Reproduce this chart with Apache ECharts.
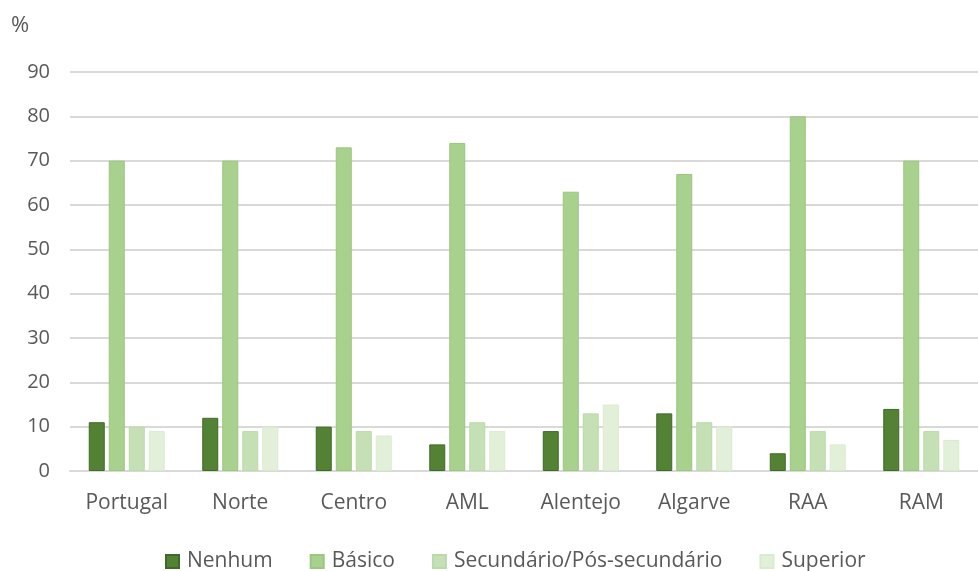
<!DOCTYPE html>
<html><head><meta charset="utf-8">
<script src="https://cdn.jsdelivr.net/npm/echarts@6/dist/echarts.min.js"></script>
<style>html,body{margin:0;padding:0;background:#fff}#c{width:978px;height:571px}</style>
</head><body><div id="c"></div>
<script>
const categories = ['Portugal','Norte','Centro','AML','Alentejo','Algarve','RAA','RAM'];
const seriesNames = ['Nenhum','Básico','Secundário/Pós-secundário','Superior'];
const nenhum = [11,12,10,6,9,13,4,14];
const basico = [70,70,73,74,63,67,80,70];
const secundario = [10,9,9,11,13,11,9,9];
const superior = [9,10,8,9,15,10,6,7];
const yTicks = [0,10,20,30,40,50,60,70,80,90];

const colors = ['#548235','#A9D18E','#C5E0B4','#E2F0D9'];
const borders = ['#3f6a27','#9cc57f','#bcd9a9','#d9ebcd'];
const values = [nenhum, basico, secundario, superior];
const font = "'Open Sans', 'Noto Sans', sans-serif";

const chart = echarts.init(document.getElementById('c'), null, {renderer:'canvas'});
chart.setOption({
  animation:false,
  textStyle:{fontFamily:font},
  grid:{left:70,right:0,top:72,bottom:100,containLabel:false},
  graphic:[{type:'text',left:11,top:15,style:{text:'%',font:"22px 'Open Sans', sans-serif",fill:'#595959'}}],
  legend:{
    top:546,left:160,itemWidth:13,itemHeight:13,itemGap:37,
    icon:'rect',
    textStyle:{fontSize:21,color:'#595959',fontFamily:font,padding:[0,0,0,3]},
    data:seriesNames
  },
  xAxis:{
    type:'category',data:categories,
    axisLine:{lineStyle:{color:'#D9D9D9',width:2}},
    axisTick:{show:false},
    axisLabel:{fontSize:21,color:'#595959',margin:22,fontFamily:font}
  },
  yAxis:{
    type:'value',min:yTicks[0],max:yTicks[yTicks.length-1],interval:10,
    axisLine:{show:false},axisTick:{show:false},
    splitLine:{lineStyle:{color:'#D9D9D9',width:2}},
    axisLabel:{fontSize:20,color:'#595959',margin:20,fontFamily:font}
  },
  series: seriesNames.map((n,i)=>({
    name:n,type:'bar',data:values[i],barWidth:16,barGap:'25%',barCategoryGap:'30%',
    itemStyle:{color:colors[i],borderColor:borders[i],borderWidth:1}
  }))
});
</script></body></html>
